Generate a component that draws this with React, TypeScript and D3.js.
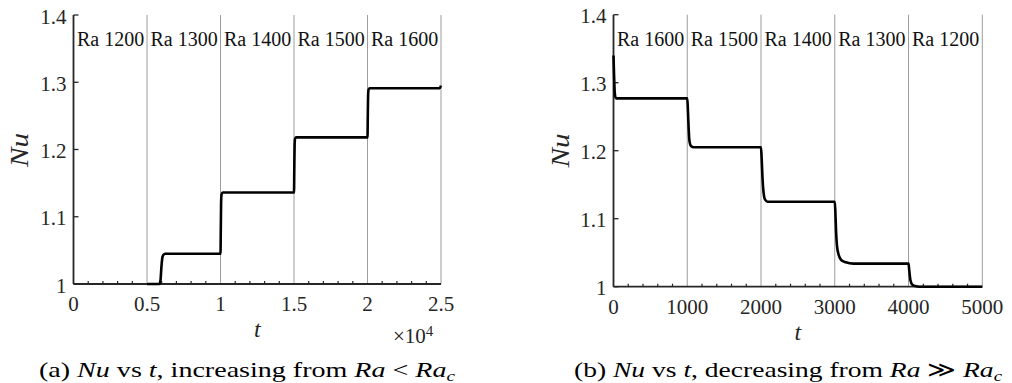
import React from "react";
import * as d3 from "d3";

// Panel (a): Nu vs t, increasing Ra (t in units, axis shown x10^4)
const incT = [5000, 5850, 5920, 5980, 6050, 6150, 6250, 10000, 10020, 10040, 10070, 10150, 15000, 15020, 15040, 15070, 15150, 20000, 20020, 20040, 20070, 20150, 24900, 25000];
const incNu = [1.0, 1.0, 1.006, 1.025, 1.04, 1.044, 1.045, 1.045, 1.08, 1.12, 1.133, 1.136, 1.136, 1.17, 1.205, 1.216, 1.218, 1.218, 1.25, 1.28, 1.289, 1.291, 1.291, 1.295];

// Panel (b): Nu vs t, decreasing Ra
const decT = [0, 8, 16, 25, 40, 100, 1000, 1008, 1018, 1030, 1050, 1090, 1150, 2000, 2008, 2020, 2035, 2055, 2090, 2150, 3000, 3008, 3018, 3030, 3055, 3090, 3150, 3250, 4000, 4008, 4025, 4050, 4090, 4150, 5000];
const decNu = [1.34, 1.31, 1.287, 1.279, 1.277, 1.277, 1.277, 1.262, 1.235, 1.214, 1.207, 1.205, 1.205, 1.205, 1.19, 1.16, 1.138, 1.128, 1.125, 1.125, 1.125, 1.11, 1.08, 1.06, 1.046, 1.039, 1.036, 1.034, 1.034, 1.026, 1.01, 1.003, 1.001, 1.0, 1.0];

const incLabels = ["Ra 1200", "Ra 1300", "Ra 1400", "Ra 1500", "Ra 1600"];
const decLabels = ["Ra 1600", "Ra 1500", "Ra 1400", "Ra 1300", "Ra 1200"];
const incBounds = [0, 5000, 10000, 15000, 20000];
const decBounds = [0, 1000, 2000, 3000, 4000];
const incGrid = [5000, 10000, 15000, 20000, 25000];
const decGrid = [1000, 2000, 3000, 4000, 5000];
const incMajor = [0, 5000, 10000, 15000, 20000, 25000];
const incMajorLabels = ["0", "0.5", "1", "1.5", "2", "2.5"];
const decMajor = [0, 1000, 2000, 3000, 4000, 5000];
const decMajorLabels = ["0", "1000", "2000", "3000", "4000", "5000"];
const yTicks = [1.0, 1.1, 1.2, 1.3, 1.4];
const yTickLabels = ["1", "1.1", "1.2", "1.3", "1.4"];

const SERIF = "'Liberation Serif', 'Times New Roman', serif";
const AXIS = "#262626";
const GRID = "#9c9c9c";

type PanelProps = {
  x0: number; x1: number; yTop: number; yBot: number;
  xMax: number; minorStep: number;
  ts: number[]; nus: number[];
  labels: string[]; bounds: number[]; grid: number[];
  major: number[]; majorLabels: string[];
};

function Panel(p: PanelProps) {
  const x = d3.scaleLinear().domain([0, p.xMax]).range([p.x0, p.x1]);
  const y = d3.scaleLinear().domain([1.0, 1.4]).range([p.yBot, p.yTop]);
  const pts = p.ts.map((t, i) => [t, p.nus[i]] as [number, number]);
  const line = d3.line<[number, number]>().x(d => x(d[0])).y(d => y(d[1])).curve(d3.curveMonotoneX);
  const minors = d3.range(0, p.xMax + 1e-6, p.minorStep).filter(v => !p.major.includes(v));
  return (
    <g>
      {/* minor x ticks */}
      {minors.map((v, i) => (
        <line key={"mn" + i} x1={x(v)} x2={x(v)} y1={p.yBot} y2={p.yBot - 3} stroke={AXIS} strokeWidth={1.2} />
      ))}
      {/* y ticks */}
      {yTicks.map((v, i) => (
        <line key={"yt" + i} x1={p.x0} x2={p.x0 + 5} y1={y(v)} y2={y(v)} stroke={AXIS} strokeWidth={1.3} />
      ))}
      {/* vertical separators */}
      {p.grid.map((v, i) => (
        <line key={"g" + i} x1={x(v)} x2={x(v)} y1={p.yTop} y2={p.yBot} stroke={GRID} strokeWidth={1} />
      ))}
      {/* axes */}
      <line x1={p.x0} x2={p.x0} y1={p.yTop} y2={p.yBot} stroke={AXIS} strokeWidth={1.8} />
      <line x1={p.x0} x2={p.x1} y1={p.yBot} y2={p.yBot} stroke={AXIS} strokeWidth={1.8} />
      {/* region labels */}
      {p.labels.map((s, i) => (
        <text key={"l" + i} x={x(p.bounds[i]) + 3.5} y={45.5} fontFamily={SERIF} fontSize={20} fill="#111">{s}</text>
      ))}
      {/* data */}
      <path d={line(pts) || ""} fill="none" stroke="#000" strokeWidth={2.6} />
      {/* x tick labels */}
      {p.major.map((v, i) => (
        <text key={"xl" + i} x={x(v)} y={p.yBot + 27} textAnchor="middle" fontFamily={SERIF} fontSize={21} fill={AXIS}>{p.majorLabels[i]}</text>
      ))}
      {/* y tick labels */}
      {yTicks.map((v, i) => (
        <text key={"yl" + i} x={p.x0 - 7} y={y(v) + 8.5} textAnchor="end" fontFamily={SERIF} fontSize={21} fill={AXIS}>{yTickLabels[i]}</text>
      ))}
    </g>
  );
}

export default function App() {
  return (
    <svg width={1012} height={383} style={{ position: "absolute", left: 0, top: 0, background: "#fff" }}>
      <rect width={1012} height={383} fill="#fff" />
      <Panel x0={73.5} x1={441} yTop={15} yBot={284} xMax={25000} minorStep={1000}
        ts={incT} nus={incNu} labels={incLabels} bounds={incBounds} grid={incGrid}
        major={incMajor} majorLabels={incMajorLabels} />
      <Panel x0={613.5} x1={982.3} yTop={14.7} yBot={286.7} xMax={5000} minorStep={200}
        ts={decT} nus={decNu} labels={decLabels} bounds={decBounds} grid={decGrid}
        major={decMajor} majorLabels={decMajorLabels} />

      {/* axis labels */}
      <text transform="translate(28,150) rotate(-90)" textAnchor="middle" fontFamily={SERIF} fontStyle="italic" fontSize={25} textLength={34} lengthAdjust="spacingAndGlyphs" fill={AXIS}>Nu</text>
      <text transform="translate(568.5,150.5) rotate(-90)" textAnchor="middle" fontFamily={SERIF} fontStyle="italic" fontSize={25} textLength={34} lengthAdjust="spacingAndGlyphs" fill={AXIS}>Nu</text>
      <text x={257.3} y={337} textAnchor="middle" fontFamily={SERIF} fontStyle="italic" fontSize={24} fill={AXIS}>t</text>
      <text x={797.9} y={339.5} textAnchor="middle" fontFamily={SERIF} fontStyle="italic" fontSize={24} fill={AXIS}>t</text>

      {/* exponent */}
      <text x={393} y={343} fontFamily={SERIF} fontSize={21} fill={AXIS}>×10<tspan fontSize={15} dy={-7}>4</tspan></text>

      {/* captions */}
      <text x={39} y={377} fontFamily={SERIF} fontSize={22} fill="#000" textLength={416} lengthAdjust="spacingAndGlyphs">
        (a) <tspan fontStyle="italic">Nu</tspan> vs <tspan fontStyle="italic">t</tspan>, increasing from <tspan fontStyle="italic">Ra</tspan> &lt; <tspan fontStyle="italic">Ra</tspan><tspan fontStyle="italic" fontSize={15} dy={4}>c</tspan>
      </text>
      <text x={574} y={377} fontFamily={SERIF} fontSize={22} fill="#000" textLength={428} lengthAdjust="spacingAndGlyphs">
        (b) <tspan fontStyle="italic">Nu</tspan> vs <tspan fontStyle="italic">t</tspan>, decreasing from <tspan fontStyle="italic">Ra</tspan> ≫ <tspan fontStyle="italic">Ra</tspan><tspan fontStyle="italic" fontSize={15} dy={4}>c</tspan>
      </text>
    </svg>
  );
}
